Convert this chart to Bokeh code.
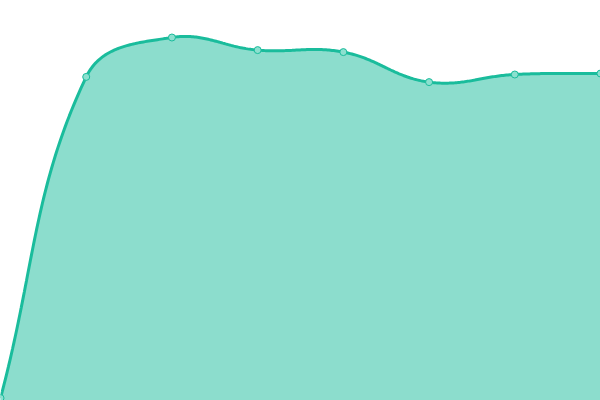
import numpy as np
from bokeh.plotting import figure
from bokeh.models import Range1d
from bokeh.embed import file_html
from bokeh.resources import INLINE

# ---- data ----
categories = ["1", "2", "3", "4", "5", "6", "7", "8"]
values = [0.6, 80.9, 90.75, 87.6, 87.1, 79.6, 81.5, 81.75]
y_min, y_max = 0, 100

W, H = 600, 400
LINE = "#1abc9c"
FILL = "rgba(26,188,156,0.5)"
POINT_FILL = "#8ce0cf"

p = figure(width=W, height=H, output_backend="svg", toolbar_location=None,
           x_axis_location=None, y_axis_location=None, min_border=0,
           x_range=Range1d(0, len(categories) - 1), y_range=Range1d(y_min, y_max))
p.grid.visible = False
p.outline_line_color = None
p.background_fill_color = "white"
p.border_fill_color = "white"

# ---- smooth curve (tension 0.4, computed in screen units) ----
xs = np.arange(len(values), dtype=float)
ys = np.array(values, dtype=float)
sx = W / (len(values) - 1)
sy = H / (y_max - y_min)
P = np.column_stack([xs * sx, (ys - y_min) * sy])
t = 0.4
n = len(P)
prev_c, next_c = [], []
for i in range(n):
    a = P[i - 1] if i > 0 else P[i]
    b = P[i]
    c = P[i + 1] if i < n - 1 else P[i]
    d01 = np.hypot(*(b - a))
    d12 = np.hypot(*(c - b))
    s01 = d01 / (d01 + d12) if d01 + d12 else 0
    s12 = d12 / (d01 + d12) if d01 + d12 else 0
    prev_c.append(b - t * s01 * (c - a))
    next_c.append(b + t * s12 * (c - a))
pts = []
tt = np.linspace(0, 1, 60)
for i in range(n - 1):
    b0, b1, b2, b3 = P[i], next_c[i], prev_c[i + 1], P[i + 1]
    for u in (tt if i == 0 else tt[1:]):
        q = ((1 - u) ** 3) * b0 + 3 * ((1 - u) ** 2) * u * b1 + 3 * (1 - u) * u * u * b2 + u ** 3 * b3
        pts.append(q)
pts = np.array(pts)
cx = pts[:, 0] / sx
cy = pts[:, 1] / sy + y_min

p.varea(x=cx, y1=np.full_like(cx, y_min), y2=cy, fill_color=FILL)
p.line(cx, cy, line_color=LINE, line_width=3)
p.scatter(xs, ys, size=7, fill_color=POINT_FILL, line_color=LINE, line_width=1)

open("out.html", "w").write(file_html(p, INLINE))
